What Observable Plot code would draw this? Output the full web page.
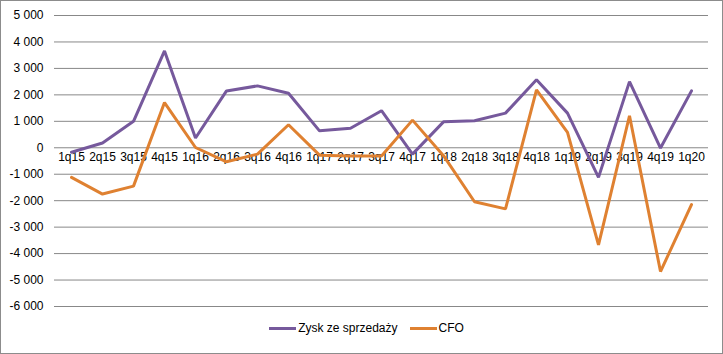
<!DOCTYPE html>
<html><head><meta charset="utf-8">
<script src="https://cdn.jsdelivr.net/npm/d3@7"></script>
<script src="https://cdn.jsdelivr.net/npm/@observablehq/plot@0.6"></script>
<style>
body{margin:0;background:#fff;font-family:"Liberation Sans",Arial,sans-serif;}
#wrap{width:723px;height:354px;box-sizing:border-box;border:1px solid #8c8c8c;position:relative;overflow:hidden;}
#legend{display:flex;justify-content:center;align-items:center;gap:12px;font-size:12px;color:#000;margin-left:10px;margin-top:0px;}
.item{display:flex;align-items:center;}
.sw{display:inline-block;width:27px;height:3px;margin-right:2px;}
</style></head>
<body><div id="wrap"><div id="chart"></div><div id="legend"></div></div>
<script>
const quarters = ["1q15","2q15","3q15","4q15","1q16","2q16","3q16","4q16","1q17","2q17","3q17","4q17","1q18","2q18","3q18","4q18","1q19","2q19","3q19","4q19","1q20"];
const zysk = [-170,180,1000,3660,370,2150,2340,2060,640,740,1400,-240,980,1020,1310,2570,1310,-1120,2500,-10,2150];
const cfo = [-1120,-1750,-1450,1710,10,-530,-240,870,-280,-310,-310,1045,-300,-2040,-2310,2190,580,-3670,1210,-4680,-2150];
const seriesNames = ["Zysk ze sprzedaży","CFO"];
const seriesColors = ["#76599C","#DF8131"];
const yTicks = [5000,4000,3000,2000,1000,0,-1000,-2000,-3000,-4000,-5000,-6000];

const rows = [];
quarters.forEach((q,i)=>{
  rows.push({q, s: seriesNames[0], v: zysk[i]});
  rows.push({q, s: seriesNames[1], v: cfo[i]});
});
const fmt = v => (v<0?"-":"") + d3.format(",")(Math.abs(v)).replace(/,/g," ");

const chart = Plot.plot({
  width: 721, height: 320,
  marginLeft: 53, marginRight: 14, marginTop: 14, marginBottom: 15,
  style: {fontFamily: '"Liberation Sans",Arial,sans-serif', fontSize: "12px", color: "#000", background: "#fff"},
  x: {type: "point", domain: quarters, padding: 0.5, axis: null},
  y: {domain: [-6000, 5000], axis: null},
  color: {domain: seriesNames, range: seriesColors},
  marks: [
    Plot.gridY(yTicks, {stroke: "#888", strokeOpacity: 1, strokeWidth: 1}),
    Plot.axisY(yTicks, {tickSize: 0, tickPadding: 11, tickFormat: fmt, fontSize: 12, fill: "#000", label: null}),
    Plot.text(quarters, {x: d=>d, y: () => 0, dy: 9, text: d=>d, fontSize: 12, fill: "#000"}),
    Plot.line(rows, {x: "q", y: "v", z: "s", stroke: "s", strokeWidth: 3, strokeLinejoin: "miter"})
  ]
});
document.getElementById("chart").appendChild(chart);
const lg = document.getElementById("legend");
seriesNames.forEach((n,i)=>{
  const it = document.createElement("span"); it.className="item";
  const sw = document.createElement("span"); sw.className="sw"; sw.style.background = seriesColors[i];
  it.appendChild(sw); it.appendChild(document.createTextNode(n)); lg.appendChild(it);
});
</script></body></html>
